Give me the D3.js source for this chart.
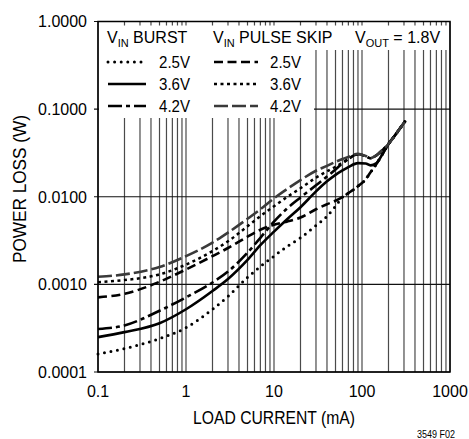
<!DOCTYPE html>
<html>
<head>
<meta charset="utf-8">
<script src="https://cdn.jsdelivr.net/npm/d3@7"></script>
<style>
  html, body { margin: 0; padding: 0; background: #fff; }
  svg { display: block; font-family: "Liberation Sans", Arial, sans-serif; }
</style>
</head>
<body>
<div id="chart"></div>
<script>
// load current (mA) at which each curve was read
var current = [0.1, 0.2, 0.5, 1, 2, 3, 5, 7, 10, 14, 20, 30, 40, 50, 60, 70, 90, 110, 125, 145, 175, 200, 250, 310];

// power loss (W), burst mode
var burst25 = [0.00016, 0.000185, 0.00024, 0.00032, 0.00052, 0.00073, 0.0012, 0.0016, 0.0021, 0.0027, 0.0034, 0.0047, 0.0060, 0.0078, 0.0099, 0.0110, 0.0132, 0.0158, 0.0190, 0.0235, 0.032, 0.040, 0.054, 0.073];
var burst36 = [0.00025, 0.000285, 0.00036, 0.00052, 0.00084, 0.00115, 0.0019, 0.0028, 0.0040, 0.0055, 0.0076, 0.0115, 0.0150, 0.0178, 0.0200, 0.0218, 0.0242, 0.0240, 0.0228, 0.0240, 0.032, 0.040, 0.054, 0.073];
var burst42 = [0.00031, 0.00034, 0.0005, 0.00071, 0.00105, 0.0014, 0.0023, 0.0034, 0.0052, 0.0073, 0.0098, 0.0135, 0.0170, 0.0205, 0.0240, 0.0270, 0.0305, 0.0290, 0.0275, 0.0295, 0.035, 0.040, 0.054, 0.073];

// power loss (W), pulse skip mode
var skip25 = [0.00071, 0.00078, 0.00107, 0.00148, 0.0021, 0.0026, 0.0035, 0.0042, 0.0048, 0.0052, 0.0058, 0.0072, 0.0082, 0.0090, 0.0099, 0.0110, 0.0132, 0.0158, 0.0190, 0.0235, 0.032, 0.040, 0.054, 0.073];
var skip36 = [0.00106, 0.00112, 0.0013, 0.00168, 0.0024, 0.0031, 0.0046, 0.0060, 0.0078, 0.0099, 0.0125, 0.0165, 0.0195, 0.0220, 0.0245, 0.0270, 0.0305, 0.0290, 0.0275, 0.0296, 0.035, 0.040, 0.054, 0.073];
var skip42 = [0.00122, 0.0013, 0.00158, 0.0021, 0.0030, 0.0039, 0.0056, 0.0072, 0.0096, 0.0122, 0.0155, 0.0198, 0.0225, 0.0250, 0.0270, 0.0285, 0.0310, 0.0292, 0.0276, 0.0297, 0.035, 0.040, 0.054, 0.073];

var xTickLabels = ["0.1", "1", "10", "100", "1000"];
var yTickLabels = ["0.0001", "0.0010", "0.0100", "0.1000", "1.0000"];
var legendVin = ["2.5V", "3.6V", "4.2V"];

var W = 469, H = 439;
var pLeft = 98, pRight = 450, pTop = 21.5, pBottom = 372;

var svg = d3.select("#chart").append("svg")
     .attr("width", W)
     .attr("height", H);

var x = d3.scaleLog().domain([0.1, 1000]).range([pLeft, pRight]);
var y = d3.scaleLog().domain([0.0001, 1]).range([pBottom, pTop]);

// vertical grid, every 1..9 of each decade
svg.append("g")
     .selectAll("line")
     .data(x.ticks())
     .enter().append("line")
     .attr("x1", function (d) { return x(d); })
     .attr("x2", function (d) { return x(d); })
     .attr("y1", pTop)
     .attr("y2", pBottom)
     .attr("stroke", "#4a4a4a")
     .attr("stroke-width", 1.2);

// horizontal grid, decades only
var decadesY = yTickLabels.map(function (d) { return +d; });
svg.append("g")
     .selectAll("line")
     .data(decadesY)
     .enter().append("line")
     .attr("x1", pLeft - 4)
     .attr("x2", pRight)
     .attr("y1", function (d) { return y(d); })
     .attr("y2", function (d) { return y(d); })
     .attr("stroke", "#111")
     .attr("stroke-width", 1.2);

// white panels behind the legend (leave the small top ticks showing)
svg.append("rect").attr("x", pLeft + 1).attr("y", pTop + 4)
     .attr("width", 314 - pLeft - 1).attr("height", 118 - pTop - 4).attr("fill", "#fff");
svg.append("rect").attr("x", 314).attr("y", pTop + 4)
     .attr("width", pRight - 314 - 1).attr("height", 50 - pTop - 4).attr("fill", "#fff");

var styles = [
     { data: burst25, dash: "0 6.6", cap: "round", color: "#000", w: 3 },
     { data: burst36, dash: null, cap: "butt", color: "#000", w: 2.6 },
     { data: burst42, dash: "14 4 4 4", cap: "butt", color: "#000", w: 2.6 },
     { data: skip25, dash: "9 4.5", cap: "butt", color: "#000", w: 2.6 },
     { data: skip36, dash: "3 3.5", cap: "butt", color: "#000", w: 2.5 },
     { data: skip42, dash: "14 4", cap: "butt", color: "#3a3a3a", w: 2.6 }
];

var line = d3.line()
     .x(function (d) { return x(d[0]); })
     .y(function (d) { return y(d[1]); })
     .curve(d3.curveMonotoneX);

svg.append("g")
     .selectAll("path")
     .data(styles)
     .enter().append("path")
     .attr("d", function (s) {
          return line(current.map(function (c, i) { return [c, s.data[i]]; }));
     })
     .attr("fill", "none")
     .attr("stroke", function (s) { return s.color; })
     .attr("stroke-width", function (s) { return s.w; })
     .attr("stroke-dasharray", function (s) { return s.dash; })
     .attr("stroke-linecap", function (s) { return s.cap; });

// frame
svg.append("rect")
     .attr("x", pLeft).attr("y", pTop)
     .attr("width", pRight - pLeft).attr("height", pBottom - pTop)
     .attr("fill", "none").attr("stroke", "#000").attr("stroke-width", 1.5);

// tick labels
svg.append("g")
     .selectAll("text")
     .data(xTickLabels)
     .enter().append("text")
     .attr("x", function (d) { return x(+d); })
     .attr("y", 397)
     .attr("text-anchor", "middle")
     .attr("font-size", 16)
     .text(function (d) { return d; });

svg.append("g")
     .selectAll("text")
     .data(yTickLabels)
     .enter().append("text")
     .attr("x", 87)
     .attr("y", function (d) { return y(+d) + 5.8; })
     .attr("text-anchor", "end")
     .attr("font-size", 16)
     .text(function (d) { return d; });

// axis titles (narrow lettering like the original)
svg.append("text")
     .attr("x", x(10)).attr("y", 424)
     .attr("text-anchor", "middle")
     .attr("font-size", 17.5)
     .attr("textLength", 162)
     .attr("lengthAdjust", "spacingAndGlyphs")
     .text("LOAD CURRENT (mA)");

svg.append("text")
     .attr("transform", "translate(26,189) rotate(-90)")
     .attr("text-anchor", "middle")
     .attr("font-size", 18)
     .attr("textLength", 148)
     .attr("lengthAdjust", "spacingAndGlyphs")
     .text("POWER LOSS (W)");

svg.append("text")
     .attr("x", 455).attr("y", 437.5)
     .attr("text-anchor", "end")
     .attr("font-size", 11.5)
     .attr("textLength", 38)
     .attr("lengthAdjust", "spacingAndGlyphs")
     .text("3549 F02");

// legend headers
function subLabel(xp, yp, main, sub, rest) {
     var t = svg.append("text").attr("x", xp).attr("y", yp).attr("font-size", 16);
     t.append("tspan").text(main);
     t.append("tspan").attr("font-size", 11).attr("dy", 4).text(sub);
     t.append("tspan").attr("dy", -4).text(rest);
}
subLabel(107, 43, "V", "IN", " BURST");
subLabel(213, 43, "V", "IN", " PULSE SKIP");
subLabel(355, 43, "V", "OUT", " = 1.8V");

// legend rows
var rowY = [62, 84, 106];
var cols = [
     { x0: 108, x1: 146, tx: 159, series: styles.slice(0, 3) },
     { x0: 214, x1: 258, tx: 270, series: styles.slice(3, 6) }
];
cols.forEach(function (col) {
     col.series.forEach(function (s, i) {
          svg.append("line")
               .attr("x1", col.x0).attr("x2", col.x1)
               .attr("y1", rowY[i]).attr("y2", rowY[i])
               .attr("stroke", s.color)
               .attr("stroke-width", s.w)
               .attr("stroke-dasharray", s.dash)
               .attr("stroke-linecap", s.cap);
          svg.append("text")
               .attr("x", col.tx).attr("y", rowY[i] + 6)
               .attr("font-size", 16.5)
               .attr("textLength", 31)
               .attr("lengthAdjust", "spacingAndGlyphs")
               .text(legendVin[i]);
     });
});
</script>
</body>
</html>
